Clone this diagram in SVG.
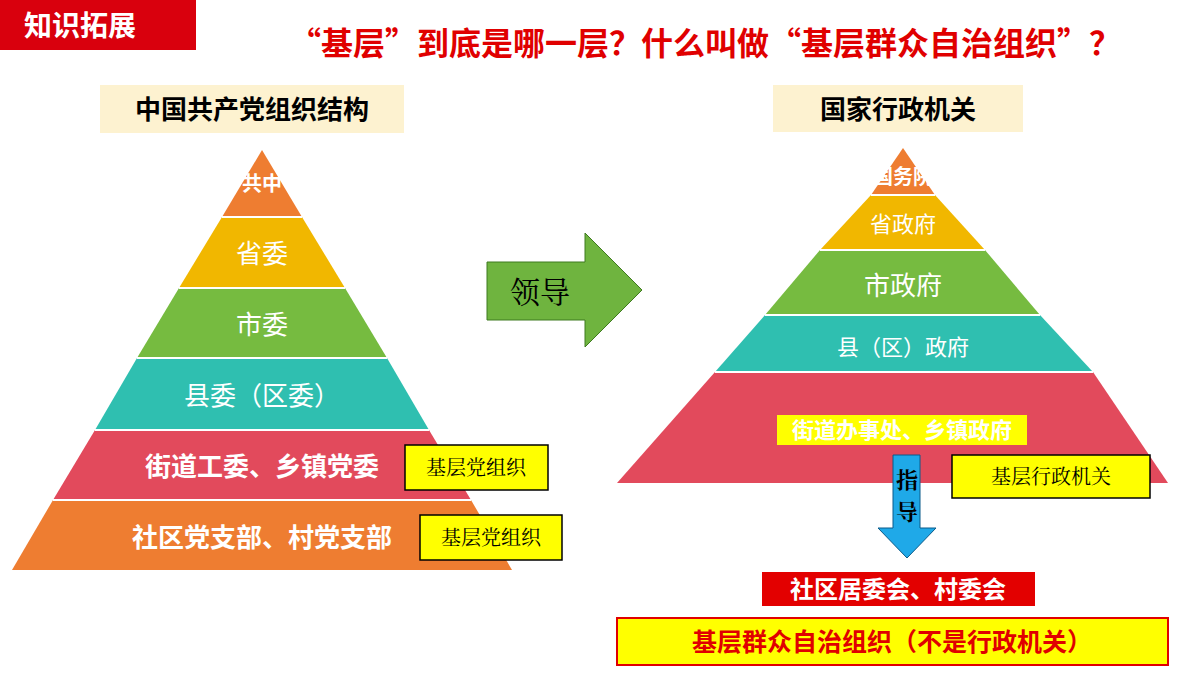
<svg xmlns="http://www.w3.org/2000/svg" width="1200" height="675" viewBox="0 0 1200 675">
<style>
text{font-family:"Noto Sans CJK SC","Noto Sans",sans-serif;text-anchor:middle}
.w{fill:#fff;font-size:26px}
.wb{fill:#fff;font-size:26px;font-weight:bold}
.k{fill:#000;font-size:20px;font-family:"Noto Serif CJK SC","Noto Sans CJK SC",serif}
.yb{fill:#ffff00;stroke:#000;stroke-width:1.5}
.sep{stroke:#fff;stroke-width:2}
</style>
<rect width="1200" height="675" fill="#fff"/>
<g id="header"><rect x="0" y="0" width="196" height="50" fill="#d9000d"/><text x="80" y="36" style="fill:#fff;font-size:28px;font-weight:bold">知识拓展</text></g>
<text x="705" y="55" style="fill:#e00000;font-size:32px;font-weight:bold">“基层”到底是哪一层？什么叫做“基层群众自治组织”？</text>
<g id="title-left"><rect x="100" y="85" width="304" height="48" fill="#fdf2d0"/><text x="252" y="119" style="font-size:26px;font-weight:bold">中国共产党组织结构</text></g>
<g id="title-right"><rect x="773" y="85" width="250" height="47" fill="#fdf2d0"/><text x="898" y="119" style="font-size:26px;font-weight:bold">国家行政机关</text></g>
<g id="left-pyramid">
<polygon points="262,150 302,217 222,217" fill="#ee7d31"/>
<polygon points="222,217 302,217 345,288 179,288" fill="#f1b700"/>
<polygon points="179,288 345,288 387,358 137,358" fill="#76bb40"/>
<polygon points="137,358 387,358 429,430 95,430" fill="#2fbfb0"/>
<polygon points="95,430 429,430 471,500 53,500" fill="#e24a5c"/>
<polygon points="53,500 471,500 512,570 12,570" fill="#ee7d31"/>
<g class="sep"><line x1="222" y1="217" x2="302" y2="217"/><line x1="179" y1="288" x2="345" y2="288"/><line x1="137" y1="358" x2="387" y2="358"/><line x1="95" y1="430" x2="429" y2="430"/><line x1="53" y1="500" x2="471" y2="500"/></g>
<text x="262" y="191" style="fill:#fff;font-size:20px;font-weight:bold">共中</text>
<text x="262" y="263" class="w">省委</text>
<text x="262" y="334" class="w">市委</text>
<text x="262" y="405" class="w">县委（区委）</text>
<text x="262" y="476" class="wb">街道工委、乡镇党委</text>
<text x="262" y="547" class="wb">社区党支部、村党支部</text>
</g>
<g id="label-1"><rect x="405" y="445" width="143" height="45" class="yb"/><text x="476" y="475" class="k">基层党组织</text></g>
<g id="label-2"><rect x="420" y="515" width="142" height="45" class="yb"/><text x="491" y="545" class="k">基层党组织</text></g>
<g id="right-pyramid">
<polygon points="903,148 935,195 871,195" fill="#ee7d31"/>
<polygon points="871,195 935,195 985,250 820,250" fill="#f1b700"/>
<polygon points="820,250 985,250 1040,315 765,315" fill="#76bb40"/>
<polygon points="765,315 1040,315 1093,372 715,372" fill="#2fbfb0"/>
<polygon points="715,372 1093,372 1168,483 617,483" fill="#e24a5c"/>
<g class="sep"><line x1="871" y1="195" x2="935" y2="195"/><line x1="820" y1="250" x2="985" y2="250"/><line x1="765" y1="315" x2="1040" y2="315"/><line x1="715" y1="372" x2="1093" y2="372"/></g>
<text x="903" y="184" style="fill:#fff;font-size:20px;font-weight:bold">国务院</text>
<text x="903" y="232" style="fill:#fff;font-size:22px">省政府</text>
<text x="903" y="295" class="w">市政府</text>
<text x="903" y="355" style="fill:#fff;font-size:22px">县（区）政府</text>
<rect x="777" y="415" width="250" height="30" fill="#ffff00"/>
<text x="902" y="438" style="fill:#fff;font-size:22px;font-weight:bold">街道办事处、乡镇政府</text>
</g>
<g id="label-3"><rect x="952" y="455" width="198" height="43" class="yb"/><text x="1051" y="484" class="k">基层行政机关</text></g>
<g id="connectors">
<g id="arrow-lead"><polygon points="487,262 585,262 585,233 642,290 585,347 585,320 487,320" fill="#6fb43f" stroke="#3f7a20" stroke-width="1"/><text x="540" y="303" style="font-size:30px;font-family:'Noto Serif CJK SC',serif">领导</text></g>
<g id="arrow-guide"><polygon points="893,455 920,455 920,528 936,528 907,558 878,528 893,528" fill="#1fa9e8" stroke="#0b5b8a" stroke-width="1"/><text x="907" y="488" style="font-size:22px;font-weight:bold;font-family:'Noto Serif CJK SC',serif">指</text><text x="907" y="520" style="font-size:22px;font-weight:bold;font-family:'Noto Serif CJK SC',serif">导</text></g>
</g>
<g id="community"><rect x="762" y="572" width="273" height="34" fill="#e30000"/><text x="898" y="598" style="fill:#fff;font-size:24px;font-weight:bold">社区居委会、村委会</text></g>
<g id="self-gov"><rect x="617" y="618" width="551" height="47" fill="#ffff00" stroke="#e00000" stroke-width="2"/><text x="892" y="651" style="fill:#e00000;font-size:25px;font-weight:bold">基层群众自治组织（不是行政机关）</text></g>
</svg>
